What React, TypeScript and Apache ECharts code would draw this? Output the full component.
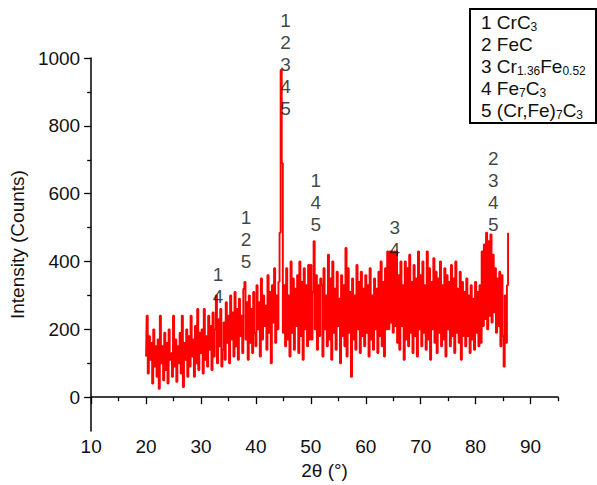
import React, { useEffect, useRef } from "react";
import * as echarts from "echarts";

// 2θ sampling grid of the scan
const scanStart = 20.0;
const scanStep = 0.2;

// Intensity (counts), one row per 2°
const intensities: number[] = [
  120, 240, 70, 180, 110, 160, 40, 200, 90, 150, // 20
  60, 170, 25, 240, 100, 150, 50, 190, 80, 160, // 22
  40, 200, 110, 130, 60, 240, 90, 170, 45, 150, // 24
  100, 190, 70, 240, 30, 160, 110, 200, 60, 180, // 26
  90, 240, 120, 170, 60, 210, 100, 260, 80, 190, // 28
  130, 200, 70, 260, 110, 180, 90, 240, 140, 210, // 30
  80, 250, 120, 200, 300, 100, 230, 150, 260, 90, // 32
  140, 220, 110, 280, 160, 240, 100, 300, 170, 250, // 34
  120, 310, 150, 260, 110, 290, 180, 240, 130, 320, // 36
  340, 170, 280, 110, 300, 160, 260, 130, 310, 190, // 38
  150, 330, 200, 280, 120, 350, 170, 300, 210, 270, // 40
  140, 360, 190, 310, 100, 330, 220, 380, 160, 300, // 42
  200, 340, 485, 965, 690, 190, 330, 150, 380, 170, // 44
  300, 120, 400, 190, 350, 140, 320, 210, 360, 130, // 46
  400, 180, 340, 110, 380, 200, 330, 150, 390, 170, // 48
  390, 170, 310, 460, 200, 360, 140, 330, 180, 350, // 50
  330, 120, 380, 200, 300, 150, 420, 170, 350, 110, // 52
  400, 190, 320, 140, 370, 210, 290, 100, 360, 180, // 54
  330, 150, 440, 120, 380, 190, 310, 60, 350, 170, // 56
  300, 140, 390, 200, 340, 130, 370, 180, 320, 150, // 58
  360, 190, 330, 120, 380, 170, 300, 140, 350, 200, // 60
  320, 130, 370, 180, 400, 150, 340, 120, 380, 200, // 62
  430, 200, 430, 220, 430, 190, 430, 210, 430, 160, // 64
  360, 140, 400, 210, 330, 110, 400, 170, 380, 150, // 66
  420, 190, 340, 130, 390, 180, 350, 120, 430, 200, // 68
  360, 150, 400, 190, 330, 140, 430, 170, 380, 110, // 70
  340, 200, 410, 160, 370, 130, 350, 190, 400, 150, // 72
  330, 170, 380, 120, 360, 200, 340, 150, 390, 180, // 74
  350, 130, 400, 190, 320, 160, 370, 110, 340, 180, // 76
  310, 150, 350, 180, 300, 130, 330, 170, 290, 140, // 78
  340, 190, 310, 150, 330, 160, 430, 210, 450, 230, // 80
  485, 200, 460, 240, 480, 220, 420, 250, 380, 190, // 82
  350, 210, 370, 150, 360, 180, 90, 300, 160, 330, // 84
  485, // 86
];

// Peak phase annotations: position (2θ, counts at text centre) and phase numbers
const peakAngles = [33.1, 38.2, 45.4, 50.9, 65.3, 83.2];
const peakLabelCounts = [329, 466, 982, 574, 469, 605];
const peakPhases = ["1\n4", "1\n2\n5", "1\n2\n3\n4\n5", "1\n4\n5", "3\n4", "2\n3\n4\n5"];

// Axis ticks
const xMajorTicks = [10, 20, 30, 40, 50, 60, 70, 80, 90];
const xMinorTicks = [15, 25, 35, 45, 55, 65, 75, 85, 95];
const yMajorTicks = [0, 200, 400, 600, 800, 1000];
const yMinorTicks = [100, 300, 500, 700, 900];

// Phase legend
const phaseLegend = [
  "1 CrC{s|3}",
  "2 FeC",
  "3 Cr{s|1.36}Fe{s|0.52}",
  "4 Fe{s|7}C{s|3}",
  "5 (Cr,Fe){s|7}C{s|3}",
];

const FONT = "'Liberation Sans', Arial, Helvetica, sans-serif";
const TXT = "#111";

export default function App() {
  const ref = useRef<HTMLDivElement>(null);
  useEffect(() => {
    if (!ref.current) return;
    const chart = echarts.init(ref.current, null, { renderer: "svg" });
    const lineData = intensities.map((v, i) => [
      +(scanStart + i * scanStep).toFixed(2),
      v,
    ]);
    const annData = peakAngles.map((a, i) => [a, peakLabelCounts[i], peakPhases[i]]);
    const axisLine = { show: true, lineStyle: { color: "#000", width: 1.5 } };
    const tickStyle = { color: "#000", width: 1.3 };
    chart.setOption({
      animation: false,
      backgroundColor: "#fff",
      textStyle: { fontFamily: FONT },
      grid: { left: 89, right: 39, top: 58, bottom: 49, containLabel: false },
      xAxis: [
        {
          type: "value",
          min: 10,
          max: 95,
          position: "bottom",
          name: "2θ (°)",
          nameLocation: "middle",
          nameGap: 27,
          nameTextStyle: { fontSize: 19, color: TXT, fontFamily: FONT },
          axisLine,
          axisTick: { show: true, length: 7, customValues: xMajorTicks, lineStyle: tickStyle },
          axisLabel: { customValues: xMajorTicks, fontSize: 19, color: TXT, margin: 6, fontFamily: FONT, formatter: (v: number) => String(v) },
          splitLine: { show: false },
        },
        {
          type: "value",
          min: 10,
          max: 95,
          position: "bottom",
          offset: 0,
          axisLine: { show: false },
          axisTick: { show: true, length: 4, customValues: xMinorTicks, lineStyle: tickStyle },
          axisLabel: { show: false },
          splitLine: { show: false },
        },
      ],
      yAxis: [
        {
          type: "value",
          min: -100,
          max: 1000,
          position: "left",
          name: "Intensity (Counts)",
          nameLocation: "middle",
          nameGap: 57,
          nameTextStyle: { fontSize: 19, color: TXT, fontFamily: FONT },
          axisLine,
          axisTick: { show: true, length: 7, customValues: yMajorTicks, lineStyle: tickStyle },
          axisLabel: { customValues: yMajorTicks, fontSize: 19, color: TXT, margin: 11, fontFamily: FONT, formatter: (v: number) => String(v) },
          splitLine: { show: false },
        },
        {
          type: "value",
          min: -100,
          max: 1000,
          position: "left",
          offset: 0,
          axisLine: { show: false },
          axisTick: { show: true, length: 4, customValues: yMinorTicks, lineStyle: tickStyle },
          axisLabel: { show: false },
          splitLine: { show: false },
        },
      ],
      series: [
        {
          type: "line",
          data: lineData,
          step: "middle",
          showSymbol: false,
          symbol: "none",
          lineStyle: { color: "#ff0000", width: 1.9 },
          xAxisIndex: 0,
          yAxisIndex: 0,
          z: 2,
        },
        {
          type: "scatter",
          data: annData,
          symbolSize: 0,
          xAxisIndex: 0,
          yAxisIndex: 0,
          z: 5,
          label: {
            show: true,
            position: "inside",
            formatter: (p: any) => p.data[2],
            fontSize: 19,
            lineHeight: 22,
            color: TXT,
            fontFamily: FONT,
          },
        },
      ],
      graphic: [
        {
          type: "rect",
          left: 469,
          top: 8,
          shape: { width: 126, height: 114 },
          style: { fill: "#fff", stroke: "#000", lineWidth: 2 },
          z: 10,
        },
        {
          type: "text",
          left: 481,
          top: 11,
          z: 11,
          style: {
            text: phaseLegend.join("\n"),
            fontSize: 19,
            lineHeight: 22,
            fill: TXT,
            fontFamily: FONT,
            rich: {
              s: { fontSize: 12, lineHeight: 10, verticalAlign: "bottom", fill: TXT, fontFamily: FONT },
            },
          },
        },
      ],
    });
    return () => chart.dispose();
  }, []);
  return (
    <div
      ref={ref}
      style={{ position: "fixed", left: 0, top: 0, width: 597, height: 485 }}
    />
  );
}
